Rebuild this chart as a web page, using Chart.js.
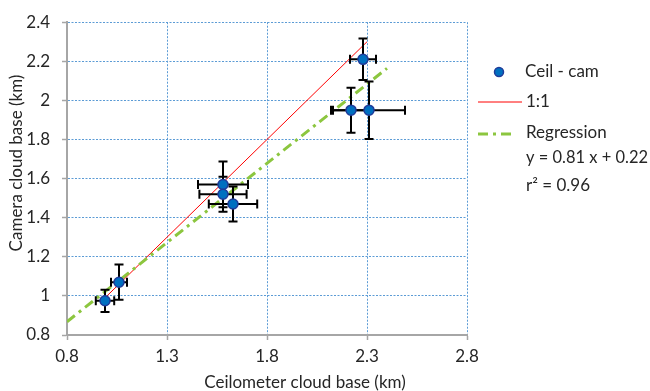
<!DOCTYPE html>
<html>
<head>
<meta charset="utf-8">
<script src="https://cdn.jsdelivr.net/npm/chart.js@4.4.1/dist/chart.umd.min.js"></script>
<style>
  body { margin: 0; background: #fff; }
  #wrap { width: 650px; height: 391px; }
</style>
</head>
<body>
<div id="wrap"><canvas id="cloud-chart" width="650" height="391"></canvas></div>
<script>
const canvas = document.querySelector("#cloud-chart");

// DATA ------------------------------------------------

const ceilKm = [2.28, 2.22, 2.31, 1.58, 1.58, 1.63, 1.06, 0.99];
const camKm = [2.21, 1.95, 1.95, 1.57, 1.52, 1.47, 1.07, 0.975];
const ceilErr = [0.065, 0.1, 0.18, 0.125, 0.118, 0.121, 0.04, 0.046];
const camErr = [0.106, 0.115, 0.147, 0.117, 0.09, 0.09, 0.09, 0.057];

const oneToOneX = [0.98, 2.3];
const regX = [0.8, 2.4];
const regSlope = 0.81;
const regIntercept = 0.22;

const xTicks = [0.8, 1.3, 1.8, 2.3, 2.8];
const yTicks = [0.8, 1.0, 1.2, 1.4, 1.6, 1.8, 2.0, 2.2, 2.4];

const FONT = "Lato, 'Open Sans', sans-serif";
const TEXT = "#262626";

// ERROR BARS (drawn just under the markers) ------------

const errorBars = {
  id: "errorBars",
  beforeDatasetDraw(chart, args) {
    if (args.index !== 0) return;
    const { ctx, scales: { x, y } } = chart;
    const cap = 4.5;
    ctx.save();
    ctx.strokeStyle = "#000";
    ctx.lineWidth = 2;
    ceilKm.forEach((cx, i) => {
      const px = x.getPixelForValue(cx);
      const py = y.getPixelForValue(camKm[i]);
      const x0 = x.getPixelForValue(cx - ceilErr[i]);
      const x1 = x.getPixelForValue(cx + ceilErr[i]);
      const y0 = y.getPixelForValue(camKm[i] - camErr[i]);
      const y1 = y.getPixelForValue(camKm[i] + camErr[i]);
      ctx.beginPath();
      ctx.moveTo(x0, py); ctx.lineTo(x1, py);
      ctx.moveTo(x0, py - cap); ctx.lineTo(x0, py + cap);
      ctx.moveTo(x1, py - cap); ctx.lineTo(x1, py + cap);
      ctx.moveTo(px, y0); ctx.lineTo(px, y1);
      ctx.moveTo(px - cap, y0); ctx.lineTo(px + cap, y0);
      ctx.moveTo(px - cap, y1); ctx.lineTo(px + cap, y1);
      ctx.stroke();
    });
    ctx.restore();
  },
};

// LEGEND + AXIS TITLES ---------------------------------

const sideLegend = {
  id: "sideLegend",
  afterDraw(chart) {
    const ctx = chart.ctx;
    ctx.save();
    ctx.font = "17px " + FONT;
    ctx.fillStyle = TEXT;
    ctx.textBaseline = "middle";
    ctx.textAlign = "left";

    // marker
    ctx.beginPath();
    ctx.arc(499, 72, 4.5, 0, Math.PI * 2);
    ctx.fillStyle = "#0070C0";
    ctx.fill();
    ctx.lineWidth = 1.5;
    ctx.strokeStyle = "#1F3C9A";
    ctx.stroke();
    ctx.fillStyle = TEXT;
    ctx.fillText("Ceil - cam", 525, 72);

    // 1:1
    ctx.beginPath();
    ctx.moveTo(478, 102); ctx.lineTo(522, 102);
    ctx.strokeStyle = "#FF0000";
    ctx.lineWidth = 1;
    ctx.stroke();
    ctx.fillText("1:1", 526, 102);

    // regression
    ctx.beginPath();
    ctx.setLineDash([10, 5, 3, 5]);
    ctx.moveTo(478, 134); ctx.lineTo(516, 134);
    ctx.strokeStyle = "#8CC63F";
    ctx.lineWidth = 3;
    ctx.stroke();
    ctx.setLineDash([]);
    ctx.fillText("Regression", 526, 133);
    ctx.fillText("y = 0.81 x + 0.22", 526, 158, 122);
    ctx.fillText("r² = 0.96", 526, 186);

    // axis titles
    ctx.textAlign = "center";
    ctx.textBaseline = "alphabetic";
    ctx.fillText("Ceilometer cloud base (km)", 305, 388);
    ctx.translate(22, 163);
    ctx.rotate(-Math.PI / 2);
    ctx.fillText("Camera cloud base (km)", 0, 0);
    ctx.restore();
  },
};

// CHART ------------------------------------------------

const gridOpts = {
  color: "#5B9BD5",
  lineWidth: 1,
  tickColor: "#A6A6A6",
  tickLength: 5,
  tickWidth: 1.5,
};
const borderOpts = { color: "#A6A6A6", width: 2, dash: [2, 1.5] };
const tickFont = { family: FONT, size: 17 };

let cloudChart = new Chart(canvas, {
  type: "scatter",
  data: {
    datasets: [
      {
        label: "Ceil - cam",
        data: ceilKm.map((x, i) => ({ x: x, y: camKm[i] })),
        backgroundColor: "#0070C0",
        borderColor: "#1F3C9A",
        borderWidth: 1.5,
        pointRadius: 5,
        order: 0,
      },
      {
        label: "1:1",
        type: "line",
        data: oneToOneX.map((v) => ({ x: v, y: v })),
        borderColor: "#FF0000",
        borderWidth: 1,
        pointRadius: 0,
        order: 2,
      },
      {
        label: "Regression",
        type: "line",
        data: regX.map((x) => ({ x: x, y: regSlope * x + regIntercept })),
        borderColor: "#8CC63F",
        borderWidth: 3,
        borderDash: [10, 5, 3, 5],
        pointRadius: 0,
        order: 1,
      },
    ],
  },
  options: {
    responsive: false,
    animation: false,
    layout: { padding: { top: 18, right: 183, left: 0, bottom: 0 } },
    plugins: {
      legend: { display: false },
      tooltip: { enabled: false },
    },
    scales: {
      x: {
        type: "linear",
        min: 0.8,
        max: 2.8,
        afterBuildTicks: (s) => { s.ticks = xTicks.map((v) => ({ value: v })); },
        afterFit: (s) => { s.height = 56; },
        ticks: {
          font: tickFont,
          color: TEXT,
          padding: 6,
          maxRotation: 0,
          callback: (v) => String(+v.toFixed(1)),
        },
        grid: gridOpts,
        border: borderOpts,
      },
      y: {
        type: "linear",
        min: 0.8,
        max: 2.4,
        afterBuildTicks: (s) => { s.ticks = yTicks.map((v) => ({ value: v })); },
        afterFit: (s) => { s.width = 67; },
        ticks: {
          font: tickFont,
          color: TEXT,
          padding: 12,
          callback: (v) => String(+v.toFixed(1)),
        },
        grid: gridOpts,
        border: borderOpts,
      },
    },
  },
  plugins: [errorBars, sideLegend],
});
</script>
</body>
</html>
